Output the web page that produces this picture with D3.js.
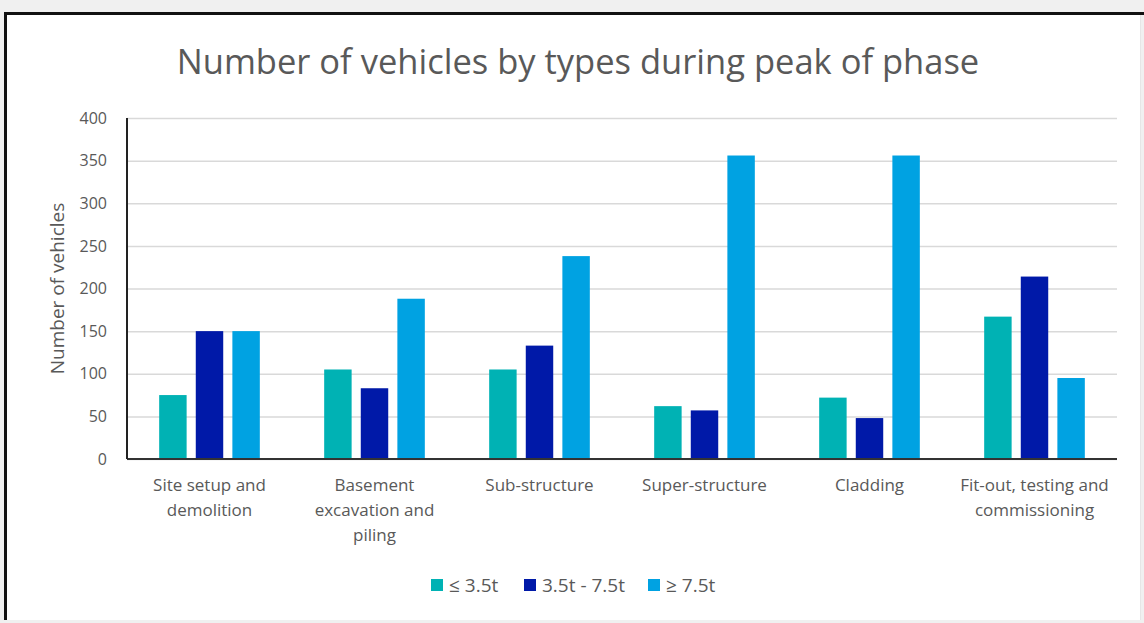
<!DOCTYPE html>
<html>
<head>
<meta charset="utf-8">
<script src="https://cdn.jsdelivr.net/npm/d3@7"></script>
<style>
    body { margin: 0; background: #f0f0f0; }
    text { font-family: "Open Sans", "Noto Sans", sans-serif; }
</style>
</head>
<body>
<div id="chart"></div>
<script>
// phases along the x axis
const phases = ["Site setup and demolition", "Basement excavation and piling", "Sub-structure",
    "Super-structure", "Cladding", "Fit-out, testing and commissioning"];
// how the phase labels wrap under the axis
const phaseLines = [
    ["Site setup and", "demolition"],
    ["Basement", "excavation and", "piling"],
    ["Sub-structure"],
    ["Super-structure"],
    ["Cladding"],
    ["Fit-out, testing and", "commissioning"]
];
const seriesNames = ["≤ 3.5t", "3.5t - 7.5t", "≥ 7.5t"];
const light = [75, 105, 105, 62, 72, 167];    // ≤ 3.5t
const medium = [150, 83, 133, 57, 48, 214];   // 3.5t - 7.5t
const heavy = [150, 188, 238, 356, 356, 95];  // ≥ 7.5t
const yTicks = [0, 50, 100, 150, 200, 250, 300, 350, 400];

const colors = ["#00b2b4", "#0019a8", "#00a2e2"];
const W = 1144, H = 623;
const margin = {top: 118, right: 27, bottom: 164, left: 127};
const width = W - margin.left - margin.right;
const height = H - margin.top - margin.bottom;

const svg = d3.select("#chart").append("svg")
    .attr("width", W)
    .attr("height", H);

// white card with dark frame on top/left
svg.append("rect").attr("x", 5).attr("y", 13).attr("width", W - 8).attr("height", H - 16).attr("fill", "white");
svg.append("path")
    .attr("d", `M5.5,${H - 3} V13.5 H${W}`)
    .attr("fill", "none").attr("stroke", "#111").attr("stroke-width", 3);
svg.append("line").attr("x1", W - 3.5).attr("x2", W - 3.5).attr("y1", 15).attr("y2", H - 3)
    .attr("stroke", "#e6e6e6");

const g = svg.append("g").attr("transform", `translate(${margin.left},${margin.top})`);

const x0 = d3.scaleBand().domain(phases).range([0, width]).paddingInner(0.39).paddingOuter(0.195);
const x1 = d3.scaleBand().domain(seriesNames).range([0, x0.bandwidth()]).paddingInner(0.25);
const y = d3.scaleLinear().domain([0, 400]).range([height, 0]);

// gridlines
g.append("g")
    .call(d3.axisLeft(y).tickValues(yTicks).tickSize(-width).tickFormat(""))
    .call(a => a.select(".domain").remove())
    .call(a => a.selectAll("line").attr("stroke", "#d9d9d9").attr("stroke-width", 1.5));

// y tick labels
g.append("g")
    .call(d3.axisLeft(y).tickValues(yTicks).tickSize(0).tickPadding(20))
    .call(a => a.select(".domain").remove())
    .call(a => a.selectAll("text").attr("fill", "#595959").style("font-size", "16px"));

const data = phases.map((p, i) => ({phase: p, values: [light[i], medium[i], heavy[i]]}));

g.selectAll(".grp")
    .data(data)
    .enter().append("g")
    .attr("class", "grp")
    .attr("transform", d => `translate(${x0(d.phase)},0)`)
    .selectAll("rect")
    .data(d => d.values.map((v, k) => ({key: seriesNames[k], value: v, k: k})))
    .enter().append("rect")
    .attr("x", d => x1(d.key))
    .attr("y", d => y(d.value))
    .attr("width", x1.bandwidth())
    .attr("height", d => height - y(d.value))
    .attr("fill", d => colors[d.k]);

// axis lines
g.append("line").attr("x1", 0).attr("x2", width).attr("y1", height).attr("y2", height)
    .attr("stroke", "#333").attr("stroke-width", 2);
g.append("line").attr("x1", 0).attr("x2", 0).attr("y1", 0).attr("y2", height)
    .attr("stroke", "#222").attr("stroke-width", 2);

// x labels
const xl = g.append("g").selectAll("text")
    .data(phases)
    .enter().append("text")
    .attr("x", d => x0(d) + x0.bandwidth() / 2)
    .attr("y", height + 32)
    .attr("text-anchor", "middle")
    .attr("fill", "#595959")
    .style("font-size", "17px");
xl.each(function(d, i) {
    d3.select(this).selectAll("tspan")
        .data(phaseLines[i])
        .enter().append("tspan")
        .attr("x", x0(d) + x0.bandwidth() / 2)
        .attr("dy", (t, j) => j === 0 ? 0 : 25)
        .text(t => t);
});

// y axis title
svg.append("text")
    .attr("transform", `translate(64,${margin.top + height / 2}) rotate(-90)`)
    .attr("text-anchor", "middle")
    .attr("fill", "#595959")
    .style("font-size", "19px")
    .text("Number of vehicles");

// title
svg.append("text")
    .attr("x", 578)
    .attr("y", 74)
    .attr("text-anchor", "middle")
    .attr("fill", "#595959")
    .style("font-size", "34.5px")
    .text("Number of vehicles by types during peak of phase");

// legend
const legendX = [431, 524, 648];
const leg = svg.append("g").selectAll("g")
    .data(seriesNames)
    .enter().append("g")
    .attr("transform", (d, i) => `translate(${legendX[i]},579)`);
leg.append("rect").attr("width", 12).attr("height", 12).attr("fill", (d, i) => colors[i]);
leg.append("text")
    .attr("x", 18).attr("y", 13)
    .attr("fill", "#595959")
    .style("font-size", "19px")
    .text(d => d);
</script>
</body>
</html>
